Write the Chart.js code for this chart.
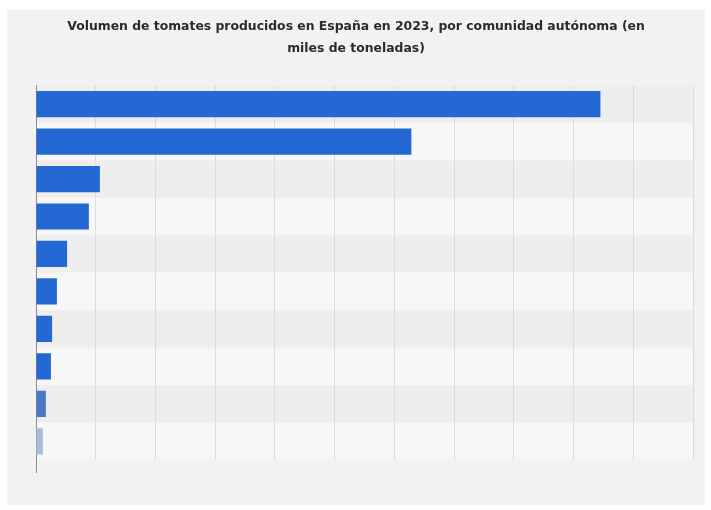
<!DOCTYPE html>
<html>
<head>
<meta charset="utf-8">
<script src="https://cdn.jsdelivr.net/npm/chart.js@4"></script>
<style>
  html, body { margin: 0; padding: 0; background: #ffffff; }
  #panel {
    position: absolute; left: 7px; top: 10px;
    width: 698px; height: 495px; background: #f2f2f2;
  }
  canvas { display: block; }
</style>
</head>
<body>
<div id="panel"><canvas id="chart" width="698" height="495"></canvas></div>
<script>
// Tomato production by autonomous community, thousand tonnes
const regions = [
  'Extremadura', 'Andalucía', 'Región de Murcia', 'Castilla-La Mancha',
  'Comunitat Valenciana', 'Canarias', 'Cataluña', 'Galicia', 'Navarra', 'Aragón'
];
const volumes = [1890, 1257, 214, 177, 104, 70, 54, 50, 33, 23];
const barColors = [
  '#2468d4', '#2468d4', '#2468d4', '#2468d4', '#2468d4',
  '#2468d4', '#2468d4', '#2468d4', '#4a78c4', '#a9badb'
];
const titleLines = [
  'Volumen de tomates producidos en España en 2023, por comunidad autónoma (en',
  'miles de toneladas)'
];

// Alternating row bands, painted before the grid and bars
const rowBands = {
  id: 'rowBands',
  beforeDraw(chart) {
    const { ctx, chartArea, scales } = chart;
    const y = scales.y;
    const half = (y.getPixelForValue(1) - y.getPixelForValue(0)) / 2;
    ctx.save();
    for (let i = 0; i < regions.length; i++) {
      const c = y.getPixelForValue(i);
      ctx.fillStyle = i % 2 === 0 ? '#eeeeee' : '#f7f7f7';
      ctx.fillRect(chartArea.left, c - half, chartArea.right - chartArea.left, half * 2);
    }
    ctx.restore();
  }
};

new Chart(document.getElementById('chart'), {
  type: 'bar',
  data: {
    labels: regions,
    datasets: [{
      data: volumes,
      backgroundColor: barColors,
      barPercentage: 0.7,
      categoryPercentage: 1.0
    }]
  },
  plugins: [rowBands],
  options: {
    indexAxis: 'y',
    responsive: false,
    animation: false,
    layout: { padding: { left: 12, right: 12, top: 0, bottom: 32 } },
    plugins: {
      legend: { display: false },
      tooltip: { enabled: false },
      title: {
        display: true,
        text: titleLines,
        color: '#2b2b2b',
        font: { family: 'DejaVu Sans, sans-serif', size: 12.4, weight: 'bold', lineHeight: 1.75 },
        padding: { top: 6, bottom: 26 }
      }
    },
    scales: {
      x: {
        min: 0, max: 2200,
        ticks: { display: false, stepSize: 200 },
        border: { display: false },
        grid: {
          color: '#dcdcdc',
          lineWidth: 1,
          drawTicks: true,
          tickLength: 13,
          tickColor: (ctx) => ctx.index === 0 ? '#8c8c8c' : 'rgba(0,0,0,0)'
        }
      },
      y: {
        afterFit(scale) { scale.width = 17; },
        ticks: { display: false },
        grid: { display: false, drawTicks: false },
        border: { display: true, color: '#8c8c8c', width: 1 }
      }
    }
  }
});
</script>
</body>
</html>
